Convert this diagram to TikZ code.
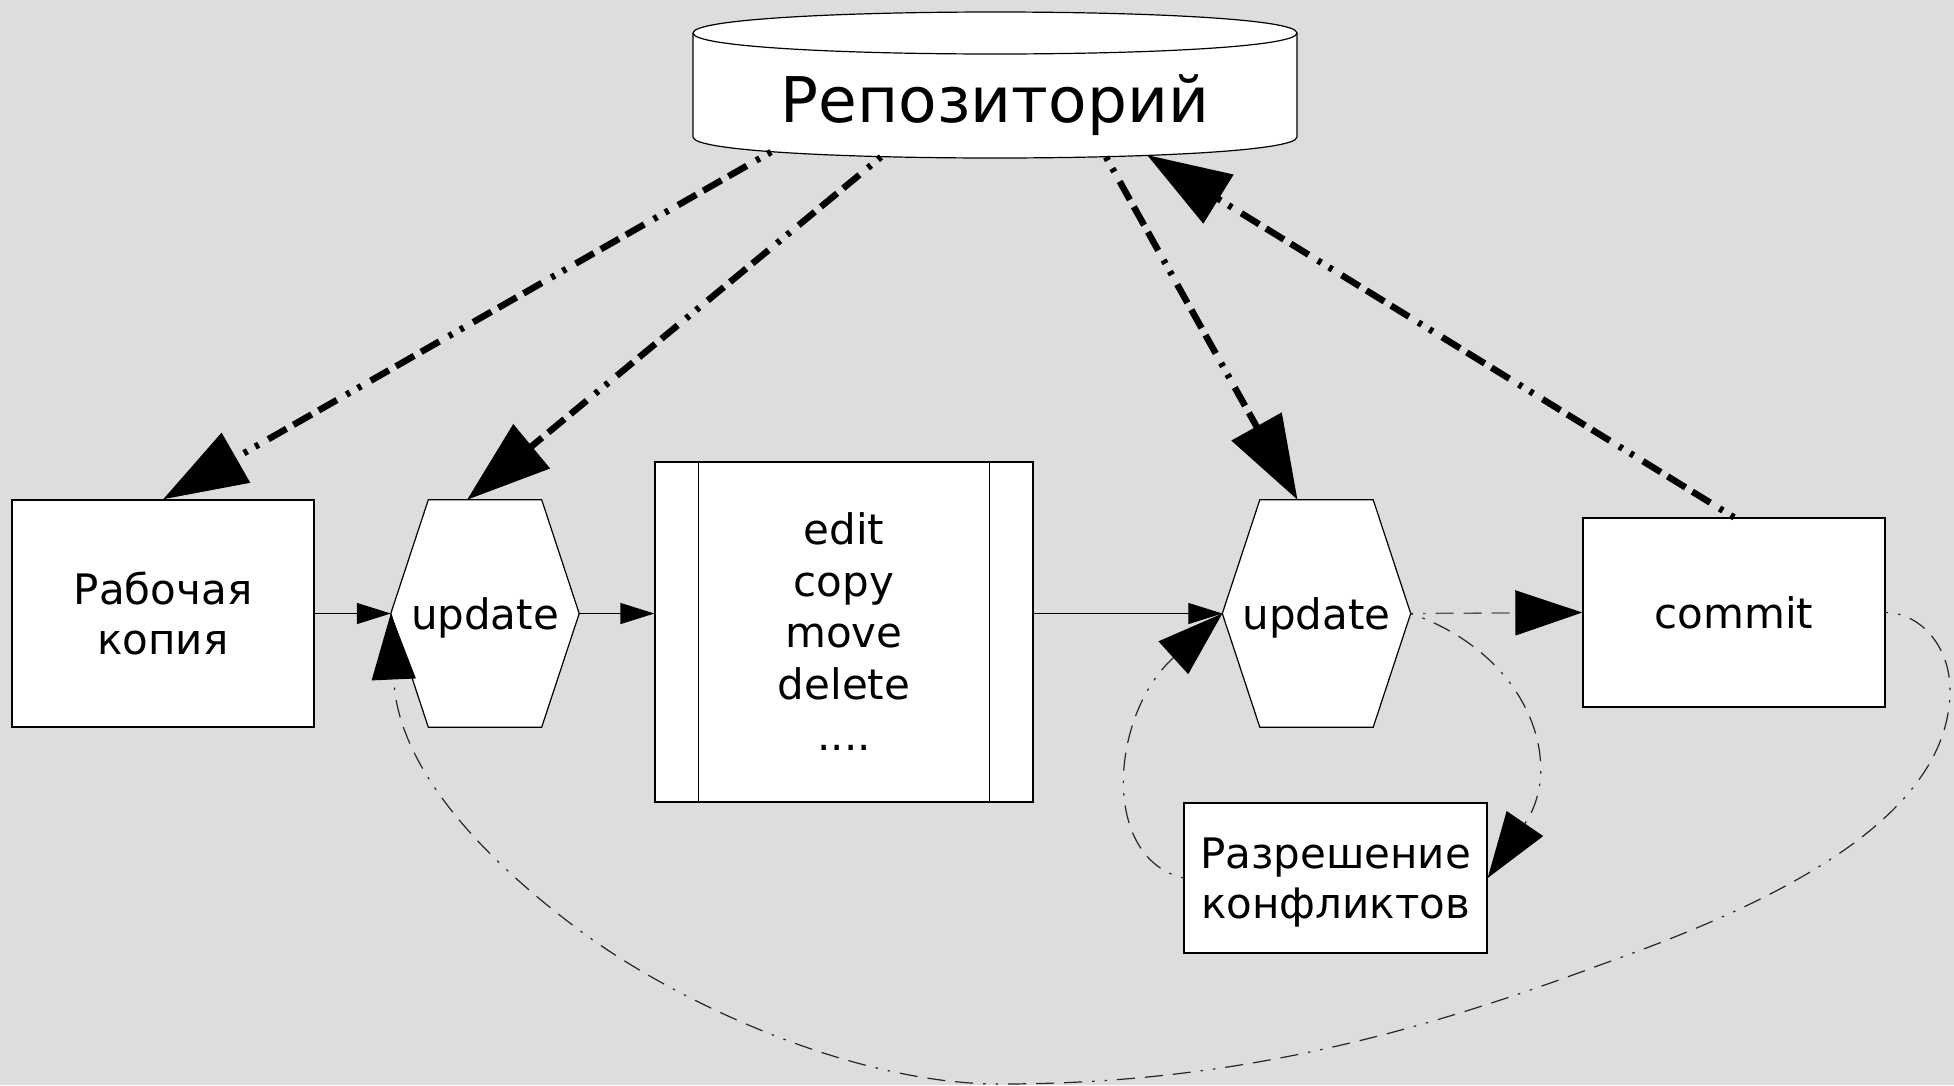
\documentclass[tikz,border=0pt]{standalone}
\usepackage{fontspec}
\setmainfont{DejaVu Sans}
\usetikzlibrary{arrows.meta,calc}
\pgfdeclarelayer{canvaslayer}
\pgfdeclarelayer{shapelayer}
\pgfsetlayers{canvaslayer,shapelayer,main}
\definecolor{canvasgray}{HTML}{DDDDDD}
\definecolor{dashgray}{HTML}{555555}

\begin{document}
\begin{tikzpicture}[x=1pt,y=-1pt,
  txt/.style={font=\fontsize{42pt}{50pt}\selectfont, align=center, inner sep=0pt, text depth=0pt},
  boxnode/.style={txt, draw=black, line width=1.3pt, fill=white},
  hexnode/.style={txt, minimum width=188pt, minimum height=227pt},
  hexface/.style={draw=black, line width=1.2pt, fill=white},
  cylface/.style={draw=black, line width=1.2pt, fill=white},
  solidflow/.style={line width=1.3pt, -{Triangle[length=34pt,width=21pt]}},
  dashdots/.style={dash pattern=on 2.5pt off 10pt on 2.5pt off 10pt on 18pt off 10pt on 18pt off 10pt on 18pt off 10pt},
  backflow/.style={dashdots, line width=1.2pt, draw=black!85, -{Triangle[length=66pt,width=44pt,color=black]}},
  greyflow/.style={dashdots, line width=1.3pt, draw=dashgray, -{Triangle[length=67pt,width=45pt,color=black]}},
  syncflow/.style={line width=6.5pt, dash pattern=on 4pt off 9pt on 4pt off 11pt on 21pt off 8pt on 21pt off 8pt on 21pt off 11pt, -{Triangle[length=84pt,width=56pt]}},
]
\useasboundingbox (0,0) rectangle (1954,1085);
\begin{pgfonlayer}{canvaslayer}
  \fill[canvasgray] (0,0) rectangle (1954,1085);
\end{pgfonlayer}

% repository cylinder
\path[cylface] (693,33) -- (693,137) .. controls (693,165) and (1297,165) .. (1297,137)
  -- (1297,33) .. controls (1297,5) and (693,5) .. (693,33) -- cycle;
\draw[cylface, fill=none] (693,33) .. controls (693,61) and (1297,61) .. (1297,33);
\node[font=\fontsize{63pt}{75pt}\selectfont, anchor=base, inner sep=0pt] (repo) at (995,122) {Репозиторий};
\coordinate (repoA) at (771,152);
\coordinate (repoB) at (881,157);
\coordinate (repoC) at (1106,157);
\coordinate (repoD) at (1147,155);

% process nodes
\node[boxnode, minimum width=302pt, minimum height=227pt] (rab) at (163,613.5) {Рабочая\\копия};
\node[hexnode] (upd1) at (485,613.5) {update};
\node[boxnode, minimum width=378pt, minimum height=340pt, font=\fontsize{42pt}{51.5pt}\selectfont] (edit) at (844,632) {edit\\copy\\move\\delete\\....};
\draw[line width=1.3pt] ($(edit.north west)+(44,0)$) -- ($(edit.south west)+(44,0)$);
\draw[line width=1.3pt] ($(edit.north east)+(-44,0)$) -- ($(edit.south east)+(-44,0)$);
\node[hexnode] (upd2) at (1316.5,613.5) {update};
\node[boxnode, minimum width=302pt, minimum height=189pt] (commit) at (1734,612.5) {commit};
\node[boxnode, minimum width=303pt, minimum height=150pt] (conflict) at (1335.5,878) {Разрешение\\конфликтов};

% hexagon outlines behind the update labels
\begin{pgfonlayer}{shapelayer}
  \foreach \h in {upd1,upd2} {
    \path[hexface] (\h.west) -- ($(\h.north west)+(37.5,0)$) -- ($(\h.north east)+(-37.5,0)$)
      -- (\h.east) -- ($(\h.south east)+(-37.5,0)$) -- ($(\h.south west)+(37.5,0)$) -- cycle;
  }
\end{pgfonlayer}

% repository traffic
\draw[syncflow] (repoA) -- (rab.north);
\draw[syncflow] (repoB) -- ($(upd1.north)+(-18,0)$);
\draw[syncflow] (repoC) -- ($(upd2.north)+(-19,0)$);
\draw[syncflow] (commit.north) -- (repoD);

% main flow
\draw[solidflow] (rab.east) -- (upd1.west);
\draw[solidflow] (upd1.east) -- (edit.west |- upd1.east);
\draw[solidflow] (edit.east |- upd2.west) -- (upd2.west);
\draw[greyflow] (upd2.east) -- (commit.west);

% conflict loop
\draw[backflow] (upd2.east) .. controls (1530,655) and (1565,765) .. (conflict.east);
\draw[backflow] (conflict.west) .. controls (1100,858) and (1110,715) .. (upd2.west);

% return from commit to the first update
\draw[backflow] (commit.east) .. controls (1921,613) and (1950,647) .. (1950,690)
  .. controls (1950,830) and (1740,915) .. (1600,965)
  .. controls (1412,1035) and (1230,1084) .. (1000,1084)
  .. controls (850,1084) and (675,1000) .. (586,935)
  .. controls (497,870) and (398,775) .. (upd1.west);
\end{tikzpicture}
\end{document}
